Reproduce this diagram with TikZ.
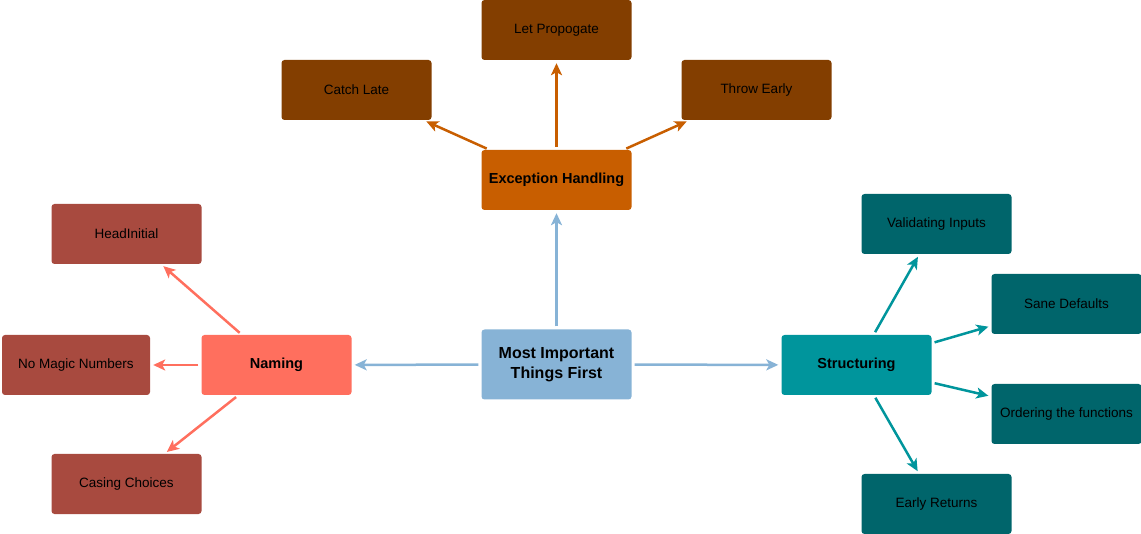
\documentclass[tikz,border=0pt]{standalone}
\usepackage{fontspec}
\setmainfont{Liberation Sans}
\usetikzlibrary{arrows.meta}
\definecolor{rootblue}{HTML}{87B3D6}
\definecolor{excorange}{HTML}{C85E00}
\definecolor{excbrown}{HTML}{833E00}
\definecolor{namesalmon}{HTML}{FF6F5E}
\definecolor{namebrick}{HTML}{A84A3F}
\definecolor{structteal}{HTML}{00959C}
\definecolor{structdark}{HTML}{00656B}
\tikzset{
  box/.style={rectangle,rounded corners=3pt,minimum width=150pt,minimum height=60pt,
    inner sep=0pt,align=center,text=black,font=\fontsize{13.5}{16}\selectfont},
  topic/.style={box,font=\bfseries\fontsize{14.5}{17}\selectfont},
  link/.style={line width=2.5pt,shorten <=3pt,shorten >=3pt,
    -{Stealth[length=12pt,width=11pt,inset=3pt]}}
}
\begin{document}
\begin{tikzpicture}[x=1pt,y=-1pt]
\useasboundingbox (0,0) rectangle (1141,534);
% centre
\node[box,fill=rootblue,minimum height=70pt,font=\bfseries\fontsize{16}{20}\selectfont] (root) at (556.5,364.5) {Most Important\\Things First};
% the three topics
\node[topic,fill=excorange] (exc) at (556.5,180) {Exception Handling};
\node[topic,fill=namesalmon] (naming) at (276.5,365) {Naming};
\node[topic,fill=structteal] (struct) at (856.5,365) {Structuring};
% exception handling
\node[box,fill=excbrown] (propagate) at (556.5,30) {Let Propogate};
\node[box,fill=excbrown] (catch) at (356.5,90) {Catch Late};
\node[box,fill=excbrown] (throw) at (756.5,90) {Throw Early};
% naming
\node[box,fill=namebrick] (headinit) at (126.5,234) {HeadInitial};
\node[box,fill=namebrick,minimum width=148pt] (magic) at (76,365) {No Magic Numbers};
\node[box,fill=namebrick] (casing) at (126.5,484) {Casing Choices};
% structuring
\node[box,fill=structdark] (validate) at (936.5,224) {Validating Inputs};
\node[box,fill=structdark] (defaults) at (1066.5,304) {Sane Defaults};
\node[box,fill=structdark] (ordering) at (1066.5,414) {Ordering the functions};
\node[box,fill=structdark] (early) at (936.5,504) {Early Returns};
% connectors
\draw[link,rootblue] (root) -- (exc);
\draw[link,rootblue] (root) -- (naming);
\draw[link,rootblue] (root) -- (struct);
\draw[link,excorange] (exc) -- (propagate);
\draw[link,excorange] (exc) -- (catch);
\draw[link,excorange] (exc) -- (throw);
\draw[link,namesalmon] (naming) -- (headinit);
\draw[link,namesalmon] (naming) -- (magic);
\draw[link,namesalmon] (naming) -- (casing);
\draw[link,structteal] (struct) -- (validate);
\draw[link,structteal] (struct) -- (defaults);
\draw[link,structteal] (struct) -- (ordering);
\draw[link,structteal] (struct) -- (early);
\end{tikzpicture}
\end{document}
